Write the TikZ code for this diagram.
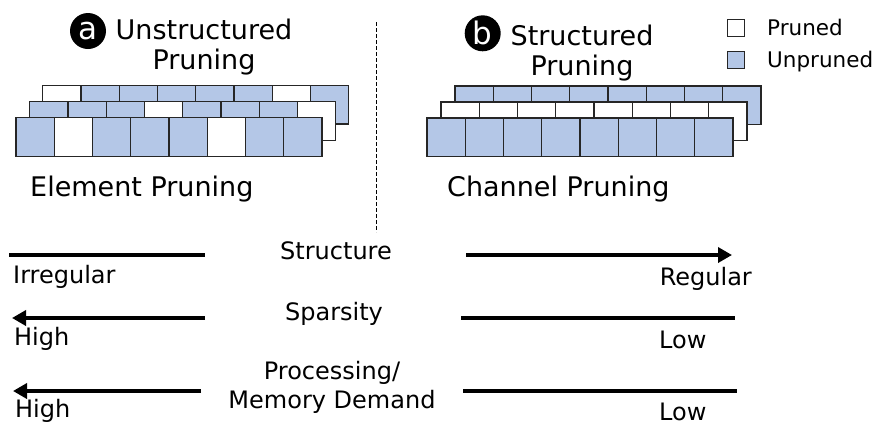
\documentclass[tikz,border=0pt]{standalone}
\usepackage{fontspec}
\setmainfont{DejaVu Sans}
\usetikzlibrary{arrows.meta}
\definecolor{unpruned}{RGB}{180,199,231}
\tikzset{
  cellU/.style={draw=black!85, line width=1.3pt, fill=unpruned},
  cellP/.style={draw=black!85, line width=1.3pt, fill=white},
  badge/.style={circle, fill=black, text=white, inner sep=0pt, minimum size=36pt, font=\fontsize{31}{31}\selectfont},
  headline/.style={align=center, inner sep=0pt, font=\fontsize{27}{30}\selectfont},
  caption/.style={inner sep=0pt, font=\fontsize{27}{30}\selectfont},
  axislabel/.style={inner sep=0pt, font=\fontsize{24}{29}\selectfont},
  legendtext/.style={inner sep=0pt, font=\fontsize{21.5}{25}\selectfont},
  keybox/.style={draw=black!85, line width=1pt, minimum size=17pt, inner sep=0pt},
  scaleline/.style={line width=4pt},
  tip/.style={-{Triangle[length=14pt,width=15pt]}}
}
\begin{document}
\begin{tikzpicture}[x=1pt,y=-1pt]
  \useasboundingbox (0,0) rectangle (875,421);

  % unstructured pruning
  \node[badge] (badgeA) at (88,31) {a};
  \node[headline] (titleA) at (204,47) {Unstructured\\Pruning};
  \foreach \s [count=\i from 0] in {cellP,cellU,cellU,cellU,cellU,cellU,cellP,cellU}
    \draw[\s] (42.7+38.25*\i,85.3) rectangle ++(38.25,38.7);
  \foreach \s [count=\i from 0] in {cellU,cellU,cellU,cellP,cellU,cellU,cellU,cellP}
    \draw[\s] (29.7+38.25*\i,101.5) rectangle ++(38.25,38.7);
  \foreach \s [count=\i from 0] in {cellU,cellP,cellU,cellU,cellU,cellP,cellU,cellU}
    \draw[\s] (16+38.25*\i,117.5) rectangle ++(38.25,39.2);
  \node[caption, anchor=base west] (captionA) at (30,196) {Element Pruning};

  % structured pruning
  \node[badge] (badgeB) at (482.7,33.3) {b};
  \node[headline] (titleB) at (582,53) {Structured\\Pruning};
  \foreach \i in {0,...,7}
    \draw[cellU] (455+38.25*\i,86) rectangle ++(38.25,38.3);
  \foreach \i in {0,...,7}
    \draw[cellP] (441+38.25*\i,102) rectangle ++(38.25,38.3);
  \foreach \i in {0,...,7}
    \draw[cellU] (427+38.25*\i,118) rectangle ++(38.25,38.5);
  \node[caption, anchor=base west] (captionB) at (447,196) {Channel Pruning};

  % legend
  \node[keybox, fill=white] (keyP) at (736,28) {};
  \node[keybox, fill=unpruned] (keyU) at (736,60) {};
  \node[legendtext, anchor=base west] (keyPtext) at (767,35.5) {Pruned};
  \node[legendtext, anchor=base west] (keyUtext) at (767,67.5) {Unpruned};

  \coordinate (divTop) at (376,22);
  \coordinate (divBot) at (376,232);
  \draw[line width=1pt, dash pattern=on 4pt off 2pt] (divTop) -- (divBot);

  % structure
  \node[axislabel, anchor=base] (structure) at (336,259) {Structure};
  \coordinate (st1) at (9,255);
  \coordinate (st2) at (205,255);
  \coordinate (st3) at (466,255);
  \coordinate (st4) at (732,255);
  \draw[scaleline] (st1) -- (st2);
  \draw[scaleline, tip] (st3) -- (st4);
  \node[axislabel, anchor=base west] (irregular) at (13,283) {Irregular};
  \node[axislabel, anchor=base east] (regular) at (752,285) {Regular};

  % sparsity
  \node[axislabel, anchor=base] (sparsity) at (334,320) {Sparsity};
  \coordinate (sp1) at (205,318);
  \coordinate (sp2) at (12,318);
  \coordinate (sp3) at (461,318);
  \coordinate (sp4) at (735,318);
  \draw[scaleline, tip] (sp1) -- (sp2);
  \draw[scaleline] (sp3) -- (sp4);
  \node[axislabel, anchor=base west] (highA) at (14,345) {High};
  \node[axislabel, anchor=base west] (lowA) at (659,348) {Low};

  % demand
  \node[axislabel, align=center] (demand) at (332,387) {Processing/\\Memory Demand};
  \coordinate (dm1) at (201,391);
  \coordinate (dm2) at (13,391);
  \coordinate (dm3) at (463,391);
  \coordinate (dm4) at (737,391);
  \draw[scaleline, tip] (dm1) -- (dm2);
  \draw[scaleline] (dm3) -- (dm4);
  \node[axislabel, anchor=base west] (highB) at (15,417) {High};
  \node[axislabel, anchor=base west] (lowB) at (659,420) {Low};
\end{tikzpicture}
\end{document}
